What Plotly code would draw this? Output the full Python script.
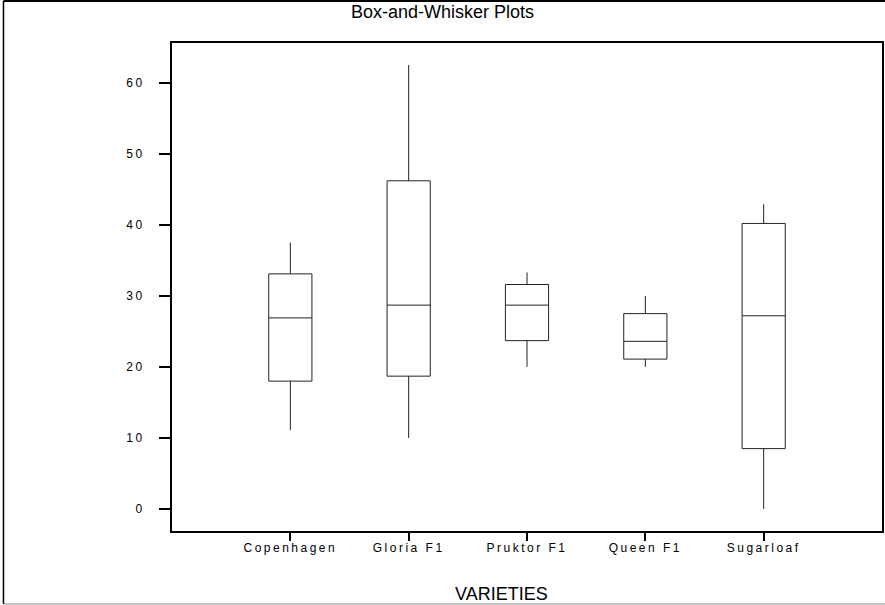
import plotly.graph_objects as go

# ---- data ----
categories = ["Copenhagen", "Gloria F1", "Pruktor F1", "Queen F1", "Sugarloaf"]
lower_whisker = [11.1, 10.0, 20.0, 20.0, 0.0]
quartile1 = [18.0, 18.7, 23.7, 21.1, 8.5]
medians = [26.9, 28.7, 28.7, 23.6, 27.2]
quartile3 = [33.1, 46.2, 31.6, 27.5, 40.2]
upper_whisker = [37.5, 62.5, 33.3, 30.0, 42.9]
y_tick_values = [0, 10, 20, 30, 40, 50, 60]

FONT = "Liberation Sans, Arial, sans-serif"

fig = go.Figure()
fig.add_trace(go.Box(
    x=categories,
    q1=quartile1,
    median=medians,
    q3=quartile3,
    lowerfence=lower_whisker,
    upperfence=upper_whisker,
    boxpoints=False,
    width=0.365,
    whiskerwidth=0,
    fillcolor="white",
    line=dict(color="#222222", width=1),
    hoverinfo="skip",
    showlegend=False,
))

# plot area in pixels: x 172..884, y 43..531
L, R, T, B = 172, 884, 43, 531
W, H = R - L, B - T

def px_x(p):
    return (p - L) / W

def px_y(p):
    return (B - p) / H

fig.update_layout(
    width=885,
    height=605,
    autosize=False,
    margin=dict(l=L, r=885 - R, t=T, b=605 - B, pad=0),
    paper_bgcolor="white",
    plot_bgcolor="white",
    font=dict(family=FONT, color="black", size=12),
    title=dict(
        text="Box-and-Whisker Plots",
        x=0.5, xref="container", xanchor="center",
        y=1 - 12 / 605, yref="container", yanchor="middle",
        font=dict(family=FONT, size=18, color="black"),
    ),
    xaxis=dict(
        type="category",
        categoryorder="array",
        categoryarray=categories,
        range=[-1, 5],
        showgrid=False,
        zeroline=False,
        showline=True,
        mirror=True,
        linecolor="black",
        linewidth=2,
        ticks="outside",
        ticklen=8,
        tickwidth=2,
        tickcolor="black",
        ticklabelstandoff=-3,
        tickfont=dict(family=FONT, size=12, color="black"),
        fixedrange=True,
    ),
    yaxis=dict(
        range=[-3.1, 65.6],
        tickvals=y_tick_values,
        showgrid=False,
        zeroline=False,
        showline=True,
        mirror=True,
        linecolor="black",
        linewidth=2,
        ticks="outside",
        ticklen=11,
        tickwidth=2,
        tickcolor="black",
        ticklabelstandoff=12,
        tickfont=dict(family=FONT, size=12, color="black"),
        fixedrange=True,
    ),
    annotations=[
        dict(
            text="VARIETIES",
            xref="paper", yref="paper",
            x=px_x(502), y=px_y(594),
            xanchor="center", yanchor="middle",
            showarrow=False,
            font=dict(family=FONT, size=18, color="black"),
        )
    ],
    shapes=[
        # outer frame of the picture
        dict(type="line", xref="paper", yref="paper",
             x0=px_x(3), x1=px_x(890), y0=px_y(1), y1=px_y(1),
             line=dict(color="black", width=2)),
        dict(type="line", xref="paper", yref="paper",
             x0=px_x(3), x1=px_x(3), y0=px_y(1), y1=px_y(604),
             line=dict(color="black", width=1.5)),
        dict(type="line", xref="paper", yref="paper",
             x0=px_x(3), x1=px_x(890), y0=px_y(604), y1=px_y(604),
             line=dict(color="#888888", width=1)),
    ],
)

post = """
document.body.style.margin = '0';
document.body.style.padding = '0';
document.querySelectorAll('.xtick text, .ytick text').forEach(function(t){
  t.style.letterSpacing = '2.5px';
});
"""

fig.write_html("out.html", config={"displayModeBar": False, "staticPlot": True}, post_script=post)
